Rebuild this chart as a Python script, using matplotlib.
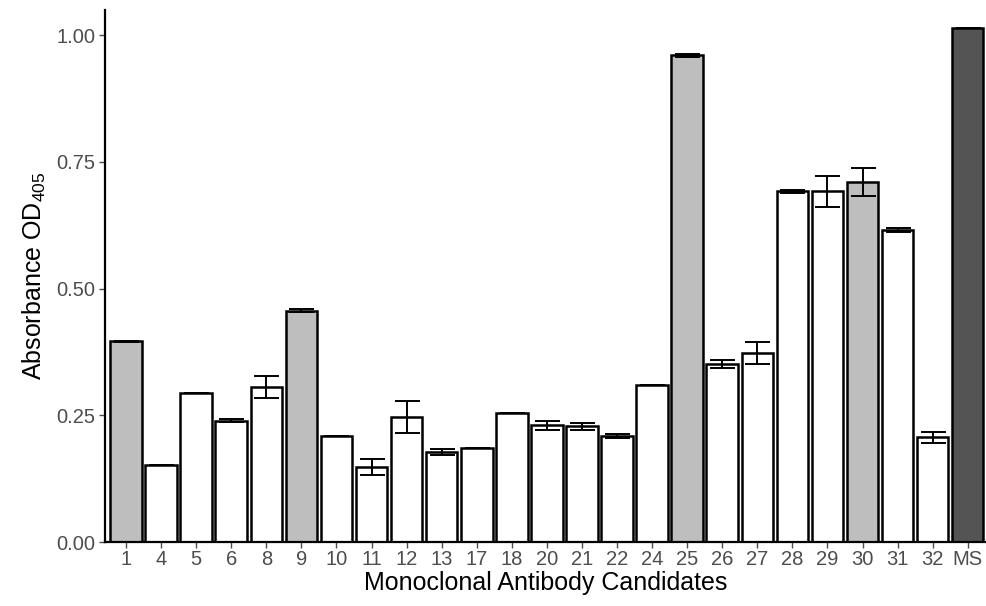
import numpy as np
import matplotlib.pyplot as plt

plt.rcParams['font.family'] = ['Liberation Sans', 'DejaVu Sans']
plt.rcParams['mathtext.default'] = 'regular'

candidates = ['1', '4', '5', '6', '8', '9', '10', '11', '12', '13', '17', '18', '20',
              '21', '22', '24', '25', '26', '27', '28', '29', '30', '31', '32', 'MS']
absorbance = [0.396, 0.152, 0.294, 0.239, 0.306, 0.456, 0.209, 0.148, 0.247, 0.178,
              0.185, 0.254, 0.230, 0.228, 0.209, 0.310, 0.961, 0.351, 0.373, 0.692,
              0.692, 0.711, 0.615, 0.207, 1.014]
errors = [0.001, 0.0, 0.0, 0.003, 0.021, 0.003, 0.0, 0.015, 0.031, 0.006,
          0.0, 0.0, 0.008, 0.006, 0.004, 0.0, 0.003, 0.008, 0.022, 0.003,
          0.030, 0.028, 0.004, 0.011, 0.0]
groups = ['hit', 'neg', 'neg', 'neg', 'neg', 'hit', 'neg', 'neg', 'neg', 'neg',
          'neg', 'neg', 'neg', 'neg', 'neg', 'neg', 'hit', 'neg', 'neg', 'neg',
          'neg', 'hit', 'neg', 'neg', 'ctrl']
fills = {'neg': 'white', 'hit': '#bebebe', 'ctrl': '#545454'}

fig = plt.figure(figsize=(9.87, 6.06), dpi=100)
ax = fig.add_axes([0.1064, 0.1056, 0.8936, 0.878])

x = np.arange(len(candidates))
ax.bar(x, absorbance, width=0.9, color=[fills[g] for g in groups],
       edgecolor='black', linewidth=1.8, zorder=2)
ax.errorbar(x, absorbance, yerr=errors, fmt='none', ecolor='black',
            elinewidth=1.4, capsize=9, capthick=1.4, zorder=3)

ax.set_xlim(-0.6, 24.55)
ax.set_ylim(0, 1.05)
ax.set_xticks(x)
ax.set_xticklabels(candidates)
ax.set_yticks([0, 0.25, 0.5, 0.75, 1.0])
ax.set_yticklabels(['0.00', '0.25', '0.50', '0.75', '1.00'])
ax.tick_params(colors='#4d4d4d', labelsize=14.5, length=4, width=1)
ax.tick_params(axis='x', pad=2)
ax.tick_params(axis='y', pad=3)

for s in ['top', 'right']:
    ax.spines[s].set_visible(False)
for s in ['left', 'bottom']:
    ax.spines[s].set_linewidth(1.6)
    ax.spines[s].set_color('black')

ax.set_xlabel('Monoclonal Antibody Candidates', fontsize=18, labelpad=1)
ax.set_ylabel('Absorbance OD$_{405}$', fontsize=18, labelpad=6)

fig.savefig('out.png', dpi=100)
